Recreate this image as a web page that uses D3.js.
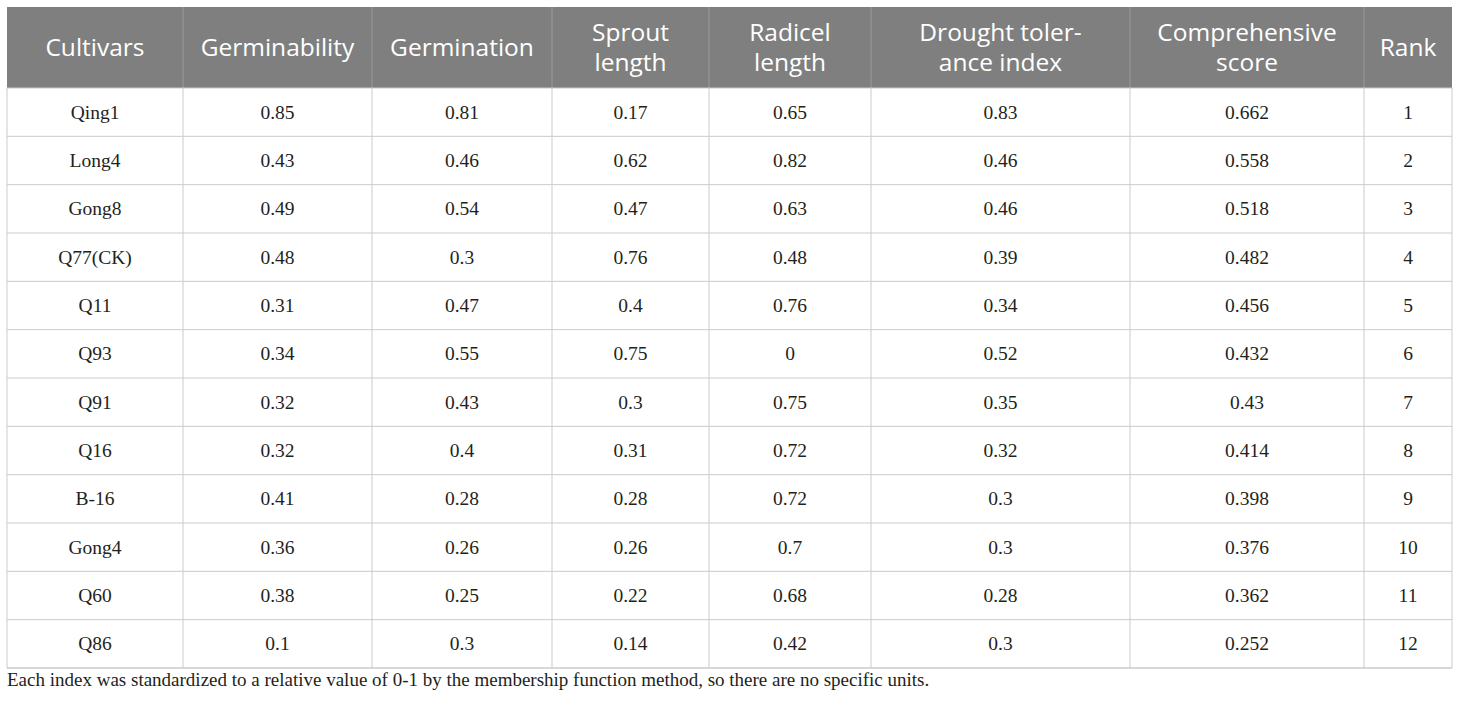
<!DOCTYPE html>
<html>
<head>
<meta charset="utf-8">
<script src="https://cdn.jsdelivr.net/npm/d3@7"></script>
<style>
  body { margin: 0; background: #fff; }
  svg { display: block; }
</style>
</head>
<body>
<script>
// Table data
const headers = [
  ["Cultivars"], ["Germinability"], ["Germination"], ["Sprout", "length"],
  ["Radicel", "length"], ["Drought toler-", "ance index"], ["Comprehensive", "score"], ["Rank"]
];
const cultivars = ["Qing1", "Long4", "Gong8", "Q77(CK)", "Q11", "Q93", "Q91", "Q16", "B-16", "Gong4", "Q60", "Q86"];
const germinability = [0.85, 0.43, 0.49, 0.48, 0.31, 0.34, 0.32, 0.32, 0.41, 0.36, 0.38, 0.1];
const germination = [0.81, 0.46, 0.54, 0.3, 0.47, 0.55, 0.43, 0.4, 0.28, 0.26, 0.25, 0.3];
const sproutLength = [0.17, 0.62, 0.47, 0.76, 0.4, 0.75, 0.3, 0.31, 0.28, 0.26, 0.22, 0.14];
const radicelLength = [0.65, 0.82, 0.63, 0.48, 0.76, 0, 0.75, 0.72, 0.72, 0.7, 0.68, 0.42];
const droughtIndex = [0.83, 0.46, 0.46, 0.39, 0.34, 0.52, 0.35, 0.32, 0.3, 0.3, 0.28, 0.3];
const compScore = [0.662, 0.558, 0.518, 0.482, 0.456, 0.432, 0.43, 0.414, 0.398, 0.376, 0.362, 0.252];
const rank = [1, 2, 3, 4, 5, 6, 7, 8, 9, 10, 11, 12];
const footnote = "Each index was standardized to a relative value of 0-1 by the membership function method, so there are no specific units.";

const columns = [cultivars, germinability, germination, sproutLength, radicelLength, droughtIndex, compScore, rank];

// Layout
let width = 1460, height = 705;
const colEdges = [7, 183, 372, 552, 709, 871, 1130, 1364, 1452];
const headTop = 7, headBottom = 88, tableBottom = 668;

let svg = d3.select('body')
  .append('svg')
  .attr('width', width)
  .attr('height', height);

const yScale = d3.scaleBand()
  .domain(d3.range(cultivars.length))
  .range([headBottom, tableBottom])
  .padding(0);

const colMid = i => (colEdges[i] + colEdges[i + 1]) / 2;

// Header background
svg.append('rect')
  .attr('x', colEdges[0])
  .attr('y', headTop)
  .attr('width', colEdges[colEdges.length - 1] - colEdges[0])
  .attr('height', headBottom - headTop)
  .attr('fill', '#7e7f7e');

// Header separators
svg.selectAll('line.hsep')
  .data(colEdges.slice(1, -1))
  .enter()
  .append('line')
  .attr('class', 'hsep')
  .attr('x1', d => d).attr('x2', d => d)
  .attr('y1', headTop).attr('y2', headBottom)
  .attr('stroke', '#9a9b9a')
  .attr('stroke-width', 1);

// Header text
const headG = svg.selectAll('text.head')
  .data(headers)
  .enter()
  .append('text')
  .attr('class', 'head')
  .attr('text-anchor', 'middle')
  .attr('font-family', "'Open Sans', sans-serif")
  .attr('font-size', 24.5)
  .attr('fill', '#fff');

headG.each(function(lines, i) {
  const t = d3.select(this);
  const mid = (headTop + headBottom) / 2;
  const lh = 29.5;
  lines.forEach((s, j) => {
    t.append('tspan')
      .attr('x', colMid(i))
      .attr('y', mid + 8.5 + (j - (lines.length - 1) / 2) * lh)
      .text(s);
  });
});

// Body grid lines
svg.selectAll('line.row')
  .data(d3.range(cultivars.length + 1))
  .enter()
  .append('line')
  .attr('class', 'row')
  .attr('x1', colEdges[0]).attr('x2', colEdges[colEdges.length - 1])
  .attr('y1', d => d < cultivars.length ? yScale(d) : tableBottom)
  .attr('y2', d => d < cultivars.length ? yScale(d) : tableBottom)
  .attr('stroke', '#cbcbcb')
  .attr('stroke-width', d => d === cultivars.length ? 1.5 : 1);

svg.selectAll('line.col')
  .data(colEdges)
  .enter()
  .append('line')
  .attr('class', 'col')
  .attr('x1', d => d).attr('x2', d => d)
  .attr('y1', headBottom).attr('y2', tableBottom)
  .attr('stroke', '#cbcbcb')
  .attr('stroke-width', 1);

// Cell text
columns.forEach((vals, ci) => {
  svg.selectAll('text.c' + ci)
    .data(vals)
    .enter()
    .append('text')
    .attr('class', 'c' + ci)
    .attr('x', colMid(ci))
    .attr('y', (d, i) => yScale(i) + yScale.bandwidth() / 2 + 6.5)
    .attr('text-anchor', 'middle')
    .attr('font-family', "'Liberation Serif', 'Times New Roman', serif")
    .attr('font-size', 19.5)
    .attr('fill', '#231f20')
    .text(d => d);
});

// Footnote
svg.append('text')
  .attr('x', colEdges[0])
  .attr('y', 686)
  .attr('font-family', "'Liberation Serif', 'Times New Roman', serif")
  .attr('font-size', 19)
  .attr('fill', '#231f20')
  .text(footnote);
</script>
</body>
</html>
